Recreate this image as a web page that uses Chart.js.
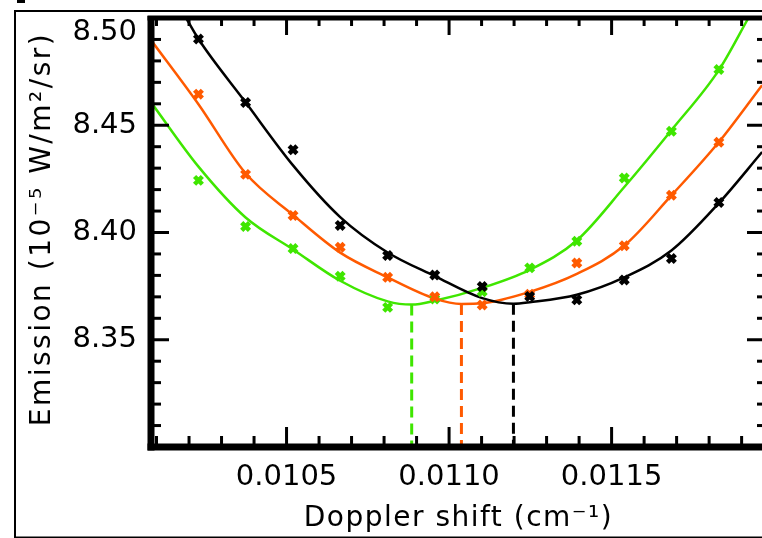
<!DOCTYPE html>
<html>
<head>
<meta charset="utf-8">
<script src="https://cdn.jsdelivr.net/npm/chart.js@4.4.1/dist/chart.umd.min.js"></script>
<style>
  html, body { margin: 0; padding: 0; background: #fff; overflow: hidden; }
  canvas { display: block; }
</style>
</head>
<body>
<!-- um pouco mais largo que a janela: a borda direita do grafico fica cortada, como no original -->
<canvas id="grafico" width="776" height="538"></canvas>
<script>
// pontos medidos (Doppler shift em cm^-1, emissao em 10^-5 W/m2/sr)
const dopplerShift = [0.010229, 0.010374, 0.010520, 0.010665, 0.010811, 0.010956, 0.011102, 0.011248, 0.011393, 0.011539, 0.011684, 0.011830];
const emissaoPreto = [8.4902, 8.4606, 8.4386, 8.4033, 8.3893, 8.3802, 8.3748, 8.3702, 8.3686, 8.3779, 8.3879, 8.4140];
const emissaoLaranja = [8.4645, 8.4271, 8.4079, 8.3931, 8.3791, 8.3700, 8.3662, 8.3712, 8.3858, 8.3938, 8.4174, 8.4421];
const emissaoVerde = [8.4243, 8.4028, 8.3925, 8.3796, 8.3651, 8.3690, 8.3724, 8.3835, 8.3959, 8.4254, 8.4472, 8.4760];

// curvas ajustadas
const ajustePretoX = [0.010191, 0.010229, 0.010374, 0.010520, 0.010665, 0.010811, 0.010956, 0.011102, 0.011198, 0.011248, 0.011393, 0.011539, 0.011684, 0.011830, 0.011963];
const ajustePretoY = [8.5000, 8.4902, 8.4607, 8.4313, 8.4072, 8.3907, 8.3797, 8.3694, 8.3668, 8.3675, 8.3710, 8.3791, 8.3916, 8.4137, 8.4375];
const ajusteLaranjaX = [0.010083, 0.010229, 0.010374, 0.010520, 0.010665, 0.010811, 0.010956, 0.011038, 0.011102, 0.011248, 0.011393, 0.011539, 0.011684, 0.011830, 0.011963];
const ajusteLaranjaY = [8.4897, 8.4598, 8.4276, 8.4082, 8.3906, 8.3791, 8.3692, 8.3667, 8.3670, 8.3723, 8.3807, 8.3939, 8.4173, 8.4422, 8.4687];
const ajusteVerdeX = [0.010083, 0.010229, 0.010374, 0.010520, 0.010665, 0.010811, 0.010885, 0.010956, 0.011102, 0.011248, 0.011393, 0.011539, 0.011684, 0.011830, 0.011921];
const ajusteVerdeY = [8.4607, 8.4307, 8.4070, 8.3921, 8.3775, 8.3679, 8.3664, 8.3682, 8.3742, 8.3826, 8.3963, 8.4212, 8.4477, 8.4757, 8.5000];

// minimos de cada curva [x, y]
const minimoPreto = [0.011198, 8.3668];
const minimoLaranja = [0.011038, 8.3667];
const minimoVerde = [0.010885, 8.3664];

const rotulosX = ['0.0105', '0.0110', '0.0115'];
const rotulosY = ['8.35', '8.40', '8.45', '8.50'];

const PRETO = '#000000';
const LARANJA = '#ff5a00';
const VERDE = '#3fe600';
const FONTE = 'DejaVu Sans';

function pontos(ys, cor) {
    return {
        data: dopplerShift.map((x, i) => ({ x, y: ys[i] })),
        showLine: false,
        pointStyle: 'crossRot',
        pointRadius: 5.5,
        pointHoverRadius: 5.5,
        pointBorderWidth: 4.5,
        pointBorderColor: cor,
        pointBackgroundColor: cor
    };
}

function curva(xs, ys, cor) {
    return {
        data: xs.map((x, i) => ({ x, y: ys[i] })),
        borderColor: cor,
        borderWidth: 2.5,
        pointRadius: 0,
        cubicInterpolationMode: 'monotone',
        fill: false
    };
}

function tracejado(minimo, cor) {
    return {
        data: [{ x: minimo[0], y: minimo[1] }, { x: minimo[0], y: 8.30 }],
        borderColor: cor,
        borderWidth: 3,
        borderDash: [11, 6],
        pointRadius: 0,
        tension: 0,
        fill: false
    };
}

// eixos no estilo IDL: moldura grossa e ticks para dentro nos quatro lados
const eixosIDL = {
    id: 'eixosIDL',
    afterDraw(chart) {
        const c = chart.ctx;
        const a = chart.chartArea;
        const sx = chart.scales.x;
        const sy = chart.scales.y;

        c.save();
        c.setLineDash([]);
        c.strokeStyle = '#000';
        c.fillStyle = '#000';

        const linha = (x1, y1, x2, y2) => {
            c.beginPath();
            c.moveTo(x1, y1);
            c.lineTo(x2, y2);
            c.stroke();
        };

        // moldura do grafico
        c.lineWidth = 7;
        linha(a.left, a.top - 2, a.left, a.bottom + 3.5);
        linha(a.left - 3.5, a.bottom, a.right + 3, a.bottom);
        c.lineWidth = 5;
        linha(a.left - 3.5, a.top, a.right + 3, a.top);
        c.lineWidth = 6;
        linha(a.right, a.top, a.right, a.bottom);

        // ticks
        c.lineWidth = 3;
        const k0 = Math.ceil(sx.min * 10000 - 1e-6);
        const k1 = Math.floor(sx.max * 10000 + 1e-6);
        for (let k = k0; k <= k1; k++) {
            const px = sx.getPixelForValue(k / 10000);
            const maior = k % 5 === 0;
            linha(px, a.bottom, px, a.bottom - (maior ? 20 : 11));
            linha(px, a.top, px, a.top + (maior ? 17 : 8));
        }
        for (let k = 830; k <= 850; k++) {
            const py = sy.getPixelForValue(k / 100);
            const maior = k % 5 === 0;
            linha(a.left, py, a.left + (maior ? 18 : 10), py);
            linha(a.right, py, a.right - (maior ? 19 : 9), py);
        }

        // moldura externa fina
        c.lineWidth = 2;
        c.strokeRect(15, 11, 800, 526.5);
        c.fillRect(17, 0, 8, 3);

        // rotulo do topo (o IDL o desloca para dentro do eixo)
        c.font = '29px "' + FONTE + '"';
        c.textAlign = 'right';
        c.textBaseline = 'middle';
        c.fillText(rotulosY[3], a.left - 14, a.top + 14);

        // titulos dos eixos
        c.font = '28px "' + FONTE + '"';
        c.textAlign = 'center';
        c.textBaseline = 'alphabetic';
        c.letterSpacing = '1.5px';
        c.fillText('Doppler shift (cm\u207B\u00B9)', (a.left + a.right) / 2, 526);

        c.letterSpacing = '2.5px';
        c.translate(50, 229);
        c.rotate(-Math.PI / 2);
        c.fillText('Emission (10\u207B\u2075 W/m\u00B2/sr)', 0, 0);
        c.restore();
    }
};

const ctx = document.getElementById('grafico').getContext('2d');

window.graficoEmissao = new Chart(ctx, {
    type: 'line',
    data: {
        datasets: [
            pontos(emissaoPreto, PRETO),
            pontos(emissaoLaranja, LARANJA),
            pontos(emissaoVerde, VERDE),
            curva(ajustePretoX, ajustePretoY, PRETO),
            curva(ajusteLaranjaX, ajusteLaranjaY, LARANJA),
            curva(ajusteVerdeX, ajusteVerdeY, VERDE),
            tracejado(minimoPreto, PRETO),
            tracejado(minimoLaranja, LARANJA),
            tracejado(minimoVerde, VERDE)
        ]
    },
    options: {
        responsive: false,
        animation: false,
        layout: { padding: { top: 18, right: 0, left: 0, bottom: 0 } },
        plugins: {
            legend: { display: false },
            tooltip: { enabled: false }
        },
        scales: {
            x: {
                type: 'linear',
                min: 0.010083,
                max: 0.011975,
                grid: { display: false, drawTicks: false },
                border: { display: false },
                ticks: {
                    stepSize: 0.0001,
                    maxTicksLimit: 1000,
                    autoSkip: false,
                    includeBounds: false,
                    maxRotation: 0,
                    padding: 13,
                    color: '#000',
                    font: { family: FONTE, size: 29 },
                    callback: v => rotulosX.includes(v.toFixed(4)) ? v.toFixed(4) : ''
                },
                afterFit(s) {
                    s.height = 91;
                    s.paddingLeft = 0;
                    s.paddingRight = 0;
                }
            },
            y: {
                type: 'linear',
                min: 8.30,
                max: 8.50,
                grid: { display: false, drawTicks: false },
                border: { display: false },
                ticks: {
                    stepSize: 0.01,
                    maxTicksLimit: 1000,
                    autoSkip: false,
                    includeBounds: false,
                    padding: 14,
                    color: '#000',
                    font: { family: FONTE, size: 29 },
                    // 8.50 e desenhado pelo plugin, mais abaixo
                    callback: v => rotulosY.slice(0, 3).includes(v.toFixed(2)) ? v.toFixed(2) : ''
                },
                afterFit(s) {
                    s.width = 151;
                    s.paddingTop = 0;
                    s.paddingBottom = 0;
                }
            }
        }
    },
    plugins: [eixosIDL]
});
</script>
</body>
</html>
